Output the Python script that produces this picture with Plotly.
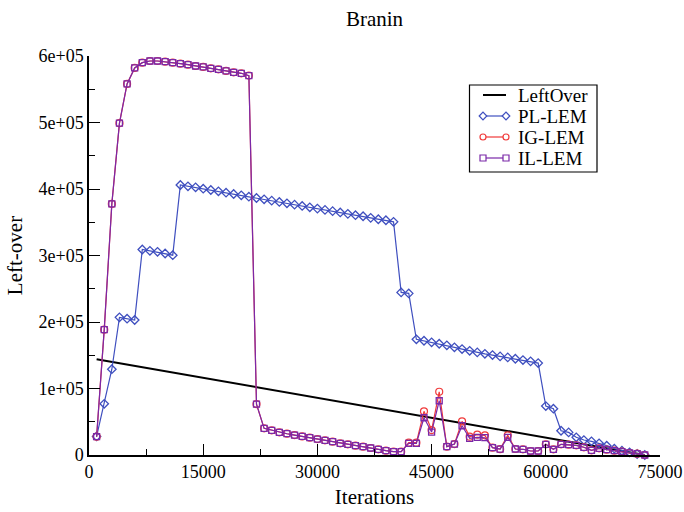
import plotly.graph_objects as go

iterations = [1000, 2000, 3000, 4000, 5000, 6000, 7000, 8000, 9000, 10000,
              11000, 12000, 13000, 14000, 15000, 16000, 17000, 18000, 19000, 20000,
              21000, 22000, 23000, 24000, 25000, 26000, 27000, 28000, 29000, 30000,
              31000, 32000, 33000, 34000, 35000, 36000, 37000, 38000, 39000, 40000,
              41000, 42000, 43000, 44000, 45000, 46000, 47000, 48000, 49000, 50000,
              51000, 52000, 53000, 54000, 55000, 56000, 57000, 58000, 59000, 60000,
              61000, 62000, 63000, 64000, 65000, 66000, 67000, 68000, 69000, 70000,
              71000, 72000, 73000]

leftover_x = [1000, 73000]
leftover_y = [144000, 0]

pl_lem = [28000, 77000, 129000, 207000, 205000, 203000, 309000, 307000, 305500, 303000,
          300500, 406000, 404000, 402500, 400500, 398500, 396500, 394500, 392500, 390500,
          388500, 386500, 384500, 382500, 380500, 378500, 376500, 374500, 372500, 370500,
          368600, 366700, 364700, 362600, 360600, 359000, 356600, 354500, 353000, 350600,
          244500, 243000, 174000, 171800, 169400, 167300, 164900, 161900, 159300, 156700,
          154300, 152200, 150300, 148300, 146800, 144700, 142800, 140800, 138200, 73600,
          69600, 36500, 34000, 26600, 22500, 20600, 17600, 14000, 9500, 6500,
          4000, 1500, 0]

ig_lem = [27500, 188500, 377600, 499000, 558000, 582000, 590000, 592500, 592500, 591500,
          590000, 588500, 587000, 585000, 583500, 581500, 580000, 577500, 575500, 574000,
          570500, 76600, 40100, 37100, 34100, 32000, 30000, 28000, 26000, 24000,
          22000, 20000, 17600, 16000, 14000, 12500, 10500, 8600, 6500, 5000,
          5000, 18500, 18500, 65700, 37500, 95100, 12500, 16500, 50600, 27500,
          30500, 29600, 11000, 8800, 29600, 9000, 8600, 6000, 6000, 16000,
          8600, 16000, 15500, 14500, 11600, 7000, 10000, 8000, 6500, 5000,
          3000, 2000, 0]

il_lem = [27500, 188500, 377600, 499000, 558000, 582000, 590000, 592500, 592500, 591500,
          590000, 588500, 587000, 585000, 583500, 581500, 580000, 577500, 575500, 574000,
          570500, 76600, 40100, 37100, 34100, 32000, 30000, 28000, 26000, 24000,
          22000, 20000, 17600, 16000, 14000, 12500, 10500, 8600, 6500, 5000,
          5000, 17600, 17600, 56000, 34500, 81600, 12500, 16500, 44000, 25000,
          26600, 26000, 11000, 8800, 26600, 9000, 8600, 6000, 6000, 16000,
          8600, 16000, 15500, 14500, 11600, 7000, 10000, 8000, 6500, 5000,
          3000, 2000, 0]

x_tickvals = [0, 15000, 30000, 45000, 60000, 75000]
x_ticktext = ["0", "15000", "30000", "45000", "60000", "75000"]
y_tickvals = [0, 100000, 200000, 300000, 400000, 500000, 600000]
y_ticktext = ["0", "1e+05", "2e+05", "3e+05", "4e+05", "5e+05", "6e+05"]

legend_names = ["LeftOver", "PL-LEM", "IG-LEM", "IL-LEM"]

FONT = "Liberation Serif"
c_pl = "#3f4fbf"
c_ig = "#f03a3a"
c_il = "#7a28a8"
legend_colors = ["black", c_pl, c_ig, c_il]
legend_symbols = [None, "diamond", "circle", "square"]

# plot-area geometry (pixels)
W, H = 684, 512
L, R, T, B = 89, 660, 56, 455


def PX(x):
    return (x - L) / (R - L)


def PY(y):
    return (B - y) / (B - T)


fig = go.Figure()
fig.add_trace(go.Scatter(x=leftover_x, y=leftover_y, mode="lines", name=legend_names[0],
                         line=dict(color="black", width=2), cliponaxis=False))
fig.add_trace(go.Scatter(x=iterations, y=pl_lem, mode="lines+markers", name=legend_names[1],
                         line=dict(color=c_pl, width=1.2),
                         marker=dict(symbol="diamond-open", size=6.5, color=c_pl, line=dict(width=1.3)),
                         cliponaxis=False))
fig.add_trace(go.Scatter(x=iterations, y=ig_lem, mode="lines+markers", name=legend_names[2],
                         line=dict(color=c_ig, width=1.2),
                         marker=dict(symbol="circle-open", size=7, color=c_ig, line=dict(width=1.2)),
                         cliponaxis=False))
fig.add_trace(go.Scatter(x=iterations, y=il_lem, mode="lines+markers", name=legend_names[3],
                         line=dict(color=c_il, width=1.2),
                         marker=dict(symbol="square-open", size=6, color=c_il, line=dict(width=1.3)),
                         cliponaxis=False))

# Grace-style legend box drawn by hand
shapes = [dict(type="rect", xref="paper", yref="paper",
               x0=PX(469.5), x1=PX(597), y0=PY(85), y1=PY(172),
               line=dict(color="black", width=1.2), fillcolor="white", layer="above")]
annotations = []
row_y = [95, 116, 137, 158]
sx0, sx1 = 483, 506
r = 3.0
for name, col, sym, yy in zip(legend_names, legend_colors, legend_symbols, row_y):
    shapes.append(dict(type="line", xref="paper", yref="paper",
                       x0=PX(sx0), x1=PX(sx1), y0=PY(yy), y1=PY(yy),
                       line=dict(color=col, width=2 if sym is None else 1.2), layer="above"))
    if sym is not None:
        for cx in (sx0, sx1):
            if sym == "circle":
                shapes.append(dict(type="circle", xref="paper", yref="paper",
                                   x0=PX(cx - r), x1=PX(cx + r), y0=PY(yy + r), y1=PY(yy - r),
                                   line=dict(color=col, width=1.2), fillcolor="white", layer="above"))
            elif sym == "square":
                shapes.append(dict(type="rect", xref="paper", yref="paper",
                                   x0=PX(cx - r), x1=PX(cx + r), y0=PY(yy + r), y1=PY(yy - r),
                                   line=dict(color=col, width=1.2), fillcolor="white", layer="above"))
            else:
                d = r + 0.8
                path = "M {a},{b} L {c},{e} L {f},{g} L {h},{i} Z".format(
                    a=PX(cx - d), b=PY(yy), c=PX(cx), e=PY(yy - d),
                    f=PX(cx + d), g=PY(yy), h=PX(cx), i=PY(yy + d))
                shapes.append(dict(type="path", xref="paper", yref="paper", path=path,
                                   line=dict(color=col, width=1.2), fillcolor="white", layer="above"))
    annotations.append(dict(text=name, xref="paper", yref="paper", x=PX(516), y=PY(yy),
                            xanchor="left", yanchor="middle", showarrow=False,
                            font=dict(family=FONT, size=19, color="black")))

fig.update_layout(
    width=W, height=H,
    margin=dict(l=L, r=W - R, t=T, b=H - B, autoexpand=False),
    paper_bgcolor="white", plot_bgcolor="white",
    font=dict(family=FONT, color="black", size=18),
    title=dict(text="Branin", x=0.5, xref="paper", xanchor="center",
               y=1 - 19 / H, yref="container", yanchor="middle",
               font=dict(family=FONT, size=21, color="black")),
    showlegend=False,
    shapes=shapes,
    annotations=annotations,
)
fig.update_xaxes(range=[0, 75000], showline=True, linecolor="black", linewidth=1.5,
                 showgrid=False, zeroline=False, automargin=False,
                 tickmode="array", tickvals=x_tickvals, ticktext=x_ticktext,
                 ticks="inside", ticklen=11, tickcolor="black", tickwidth=1,
                 minor=dict(ticks="inside", ticklen=6, dtick=7500, tick0=0, tickcolor="black", showgrid=False),
                 tickfont=dict(family=FONT, size=18, color="black"),
                 title=dict(text="Iterations", font=dict(family=FONT, size=21, color="black"), standoff=8))
fig.update_yaxes(range=[0, 600000], showline=True, linecolor="black", linewidth=1.5,
                 showgrid=False, zeroline=False, automargin=False,
                 tickmode="array", tickvals=y_tickvals, ticktext=y_ticktext,
                 ticks="inside", ticklen=11, tickcolor="black", tickwidth=1,
                 minor=dict(ticks="inside", ticklen=6, dtick=50000, tick0=0, tickcolor="black", showgrid=False),
                 tickfont=dict(family=FONT, size=18, color="black"),
                 title=dict(text="Left-over", font=dict(family=FONT, size=21, color="black"), standoff=10))

fig.write_html("out.html")
